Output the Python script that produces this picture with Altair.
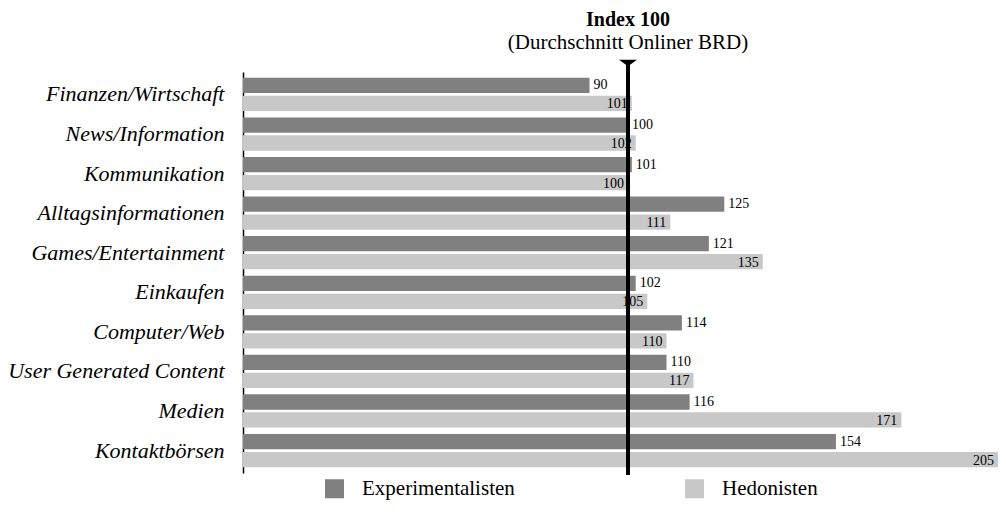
import altair as alt
import pandas as pd

categories = ["Finanzen/Wirtschaft", "News/Information", "Kommunikation",
              "Alltagsinformationen", "Games/Entertainment", "Einkaufen",
              "Computer/Web", "User Generated Content", "Medien", "Kontaktbörsen"]
groups = ["Experimentalisten", "Hedonisten"]
experimentalisten = [90, 100, 101, 125, 121, 102, 114, 110, 116, 154]
hedonisten = [101, 102, 100, 111, 135, 105, 110, 117, 171, 205]
index_value = [100]
title_text = "Index 100"
subtitle_text = "(Durchschnitt Onliner BRD)"

rows = []
for c, e, h in zip(categories, experimentalisten, hedonisten):
    rows.append({"Kategorie": c, "Gruppe": groups[0], "Wert": e})
    rows.append({"Kategorie": c, "Gruppe": groups[1], "Wert": h})
df = pd.DataFrame(rows)
idx = pd.DataFrame({"v": index_value})

FONT = "Liberation Serif"

xscale = alt.Scale(domain=[0, 196.1], clamp=True, nice=False, zero=True)
yenc = alt.Y("Kategorie:N", sort=categories,
             scale=alt.Scale(paddingInner=0.159, paddingOuter=0.147),
             axis=alt.Axis(title=None, labelFontStyle="italic", labelFontSize=22,
                           labelFont=FONT, labelColor="black", ticks=False,
                           labelPadding=19, domainColor="black", domainWidth=1.5,
                           labelLimit=0, grid=False))
yoff = alt.YOffset("Gruppe:N", sort=groups, scale=alt.Scale(paddingInner=0.15))

base = alt.Chart(df)

bars = base.mark_bar().encode(
    y=yenc,
    yOffset=yoff,
    x=alt.X("Wert:Q", scale=xscale, axis=None),
    color=alt.Color("Gruppe:N", sort=groups,
                    scale=alt.Scale(domain=groups, range=["#808080", "#c8c8c8"]),
                    legend=alt.Legend(title=None, orient="none", legendX=81, legendY=406,
                                      direction="horizontal", symbolType="square",
                                      symbolSize=361, symbolStrokeWidth=0, symbolOpacity=1,
                                      labelFont=FONT, labelFontSize=21, labelColor="black",
                                      labelOffset=17, columnPadding=169, labelLimit=0)),
)

text_exp = base.transform_filter(alt.datum.Gruppe == groups[0]).mark_text(
    align="left", baseline="middle", dx=4, fontSize=14, font=FONT, color="black"
).encode(y=alt.Y("Kategorie:N", sort=categories), yOffset=yoff,
         x=alt.X("Wert:Q", scale=xscale, axis=None), text="Wert:Q")

text_hed = base.transform_filter(alt.datum.Gruppe == groups[1]).mark_text(
    align="right", baseline="middle", dx=-4, dy=1, fontSize=14, font=FONT, color="black"
).encode(y=alt.Y("Kategorie:N", sort=categories), yOffset=yoff,
         x=alt.X("Wert:Q", scale=xscale, axis=None), text="Wert:Q")

idx_base = alt.Chart(idx)
rule = idx_base.mark_rule(strokeWidth=4, color="black").encode(
    x=alt.X("v:Q", scale=xscale, axis=None), y=alt.value(-12), y2=alt.value(403))
tri = idx_base.mark_point(shape="M-1,-0.35L1,-0.35L0,0.35Z", filled=True, size=324,
                          color="black", opacity=1).encode(
    x=alt.X("v:Q", scale=xscale, axis=None), y=alt.value(-9))
t1 = idx_base.mark_text(fontSize=20, fontWeight="bold", font=FONT, color="black",
                        baseline="alphabetic", align="center").encode(
    x=alt.X("v:Q", scale=xscale, axis=None), y=alt.value(-46), text=alt.value(title_text))
t2 = idx_base.mark_text(fontSize=21, font=FONT, color="black",
                        baseline="alphabetic", align="center").encode(
    x=alt.X("v:Q", scale=xscale, axis=None), y=alt.value(-23), text=alt.value(subtitle_text))

chart = alt.layer(bars, text_exp, text_hed, rule, tri, t1, t2).properties(
    width=755, height=401, autosize="none",
    padding={"left": 235, "top": 64, "right": 0, "bottom": 30},
).configure(font=FONT).configure_view(strokeWidth=0, stroke="transparent")

chart.save("out.html", embed_options={"renderer": "svg", "actions": False})
